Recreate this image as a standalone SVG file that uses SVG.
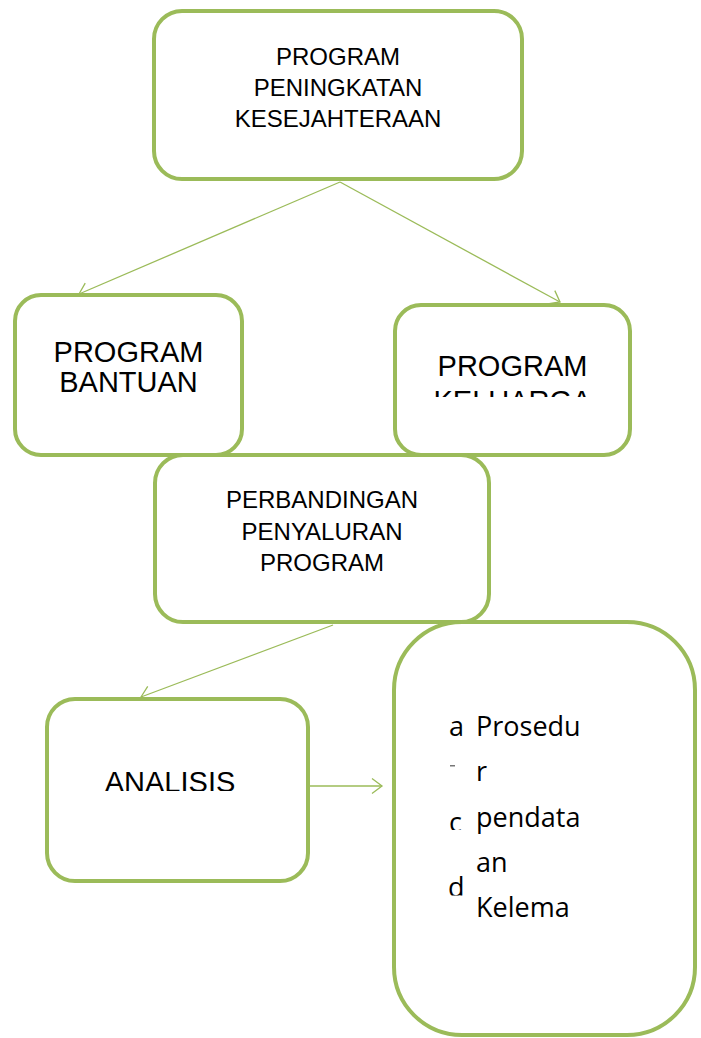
<svg xmlns="http://www.w3.org/2000/svg" width="701" height="1038" viewBox="0 0 701 1038">
<style>
.box{fill:#fff;stroke:#9BBB59;stroke-width:4}
.con{fill:none;stroke:#9BBB59;stroke-width:1.3}
.t{font-family:"Liberation Sans",Arial,sans-serif;fill:#000;text-anchor:middle}
.s{font-size:24px}
.l{font-size:29px}
.c{font-family:"Open Sans","Noto Sans",sans-serif;font-size:27px;fill:#000}
</style>
<defs>
<marker id="arr" markerUnits="userSpaceOnUse" markerWidth="14" markerHeight="20" viewBox="-12 -10 14 20" refX="0" refY="0" orient="auto">
<path d="M-10,-7.5 L0,0 L-10,7.5" fill="none" stroke="#9BBB59" stroke-width="1.3"/>
</marker>
<clipPath id="clipKel"><rect x="395" y="305" width="235" height="92"/></clipPath>
<clipPath id="clipAna"><rect x="47" y="699" width="261" height="92"/></clipPath>
<clipPath id="clipC"><rect x="440" y="800" width="30" height="30"/></clipPath>
<clipPath id="clipD"><rect x="440" y="860" width="30" height="35.5"/></clipPath>
</defs>
<rect width="701" height="1038" fill="#fff"/>
<g id="connectors">
<line class="con" x1="340" y1="182" x2="79" y2="294" marker-end="url(#arr)"/>
<line class="con" x1="340" y1="182" x2="560" y2="302" marker-end="url(#arr)"/>
<line class="con" x1="333" y1="625" x2="141" y2="697" marker-end="url(#arr)"/>
<line class="con" x1="310" y1="786" x2="382" y2="786" marker-end="url(#arr)"/>
</g>
<g id="node-top">
<rect class="box" x="154" y="11" width="368" height="168" rx="28"/>
<text class="t s" x="338" y="65">PROGRAM</text>
<text class="t s" x="338" y="96">PENINGKATAN</text>
<text class="t s" x="338" y="127">KESEJAHTERAAN</text>
</g>
<g id="node-bantuan">
<rect class="box" x="15" y="295" width="227" height="160" rx="26"/>
<text class="t l" x="128.5" y="362">PROGRAM</text>
<text class="t l" x="128.5" y="392">BANTUAN</text>
</g>
<g id="node-keluarga">
<rect class="box" x="395" y="305" width="235" height="150" rx="26"/>
<text class="t l" x="512.5" y="376">PROGRAM</text>
<text class="t l" x="512.5" y="411" clip-path="url(#clipKel)">KELUARGA</text>
</g>
<g id="node-perbandingan">
<rect class="box" x="155" y="455" width="334" height="167" rx="28"/>
<text class="t s" x="322" y="508">PERBANDINGAN</text>
<text class="t s" x="322" y="540">PENYALURAN</text>
<text class="t s" x="322" y="571">PROGRAM</text>
</g>
<g id="node-analisis">
<rect class="box" x="47" y="699" width="261" height="182" rx="28"/>
<text class="t l" x="170" y="792" clip-path="url(#clipAna)">ANALISIS</text>
</g>
<g id="node-prosedur">
<rect class="box" x="394" y="622" width="301" height="413" rx="68"/>
<text class="c" x="449" y="736">a</text>
<rect x="450" y="765" width="5" height="1.5" fill="#777"/>
<text class="c" x="449" y="832" clip-path="url(#clipC)">c</text>
<text class="c" x="448" y="897" clip-path="url(#clipD)">d</text>
<text class="c" x="476" y="736">Prosedu</text>
<text class="c" x="476" y="781">r</text>
<text class="c" x="476" y="827">pendata</text>
<text class="c" x="476" y="872">an</text>
<text class="c" x="476" y="917">Kelema</text>
</g>
</svg>
